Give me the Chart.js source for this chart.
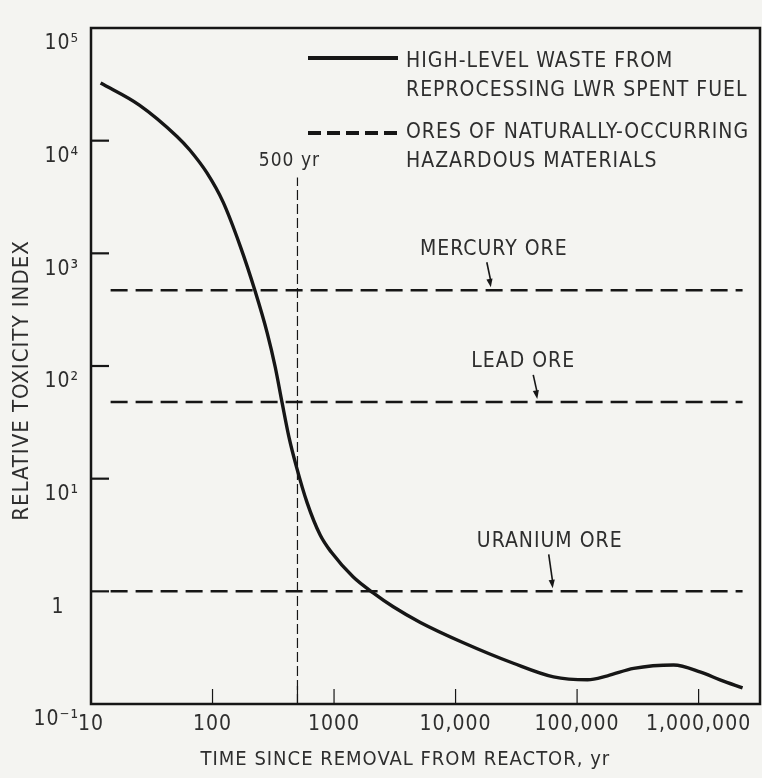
<!DOCTYPE html>
<html>
<head>
<meta charset="utf-8">
<script src="https://cdn.jsdelivr.net/npm/chart.js@4.4.1/dist/chart.umd.min.js"></script>
<style>
  html, body { margin: 0; padding: 0; background: #f4f4f1; }
  #wrap { width: 762px; height: 778px; }
</style>
</head>
<body>
<div id="wrap"><canvas id="myChart" width="762" height="778"></canvas></div>
<script>
// values (log-log)
const wasteYears = [12, 25, 51, 65, 90, 122, 169, 224, 282, 328, 374, 427, 488, 601, 769, 948, 1440, 2100, 3070, 5130, 11600, 29900, 64000, 122000, 178000, 292000, 623000, 1040000, 1520000, 2300000];
const wasteToxicity = [32500, 20700, 10900, 8260, 5170, 2860, 1160, 463, 196, 98, 47, 23, 13, 6.1, 3.16, 2.23, 1.34, 0.97, 0.73, 0.53, 0.35, 0.23, 0.174, 0.164, 0.178, 0.207, 0.222, 0.192, 0.163, 0.139];

const oreNames = ["MERCURY ORE", "LEAD ORE", "URANIUM ORE"];
const oreToxicity = [470, 48, 1];
const oreSpan = [14.5, 2300000];
const oreArrowYears = [19500, 47000, 63000];

const markerYears = [500];
const markerTop = 4700;

const xTicks = [10, 100, 1000, 10000, 100000, 1000000];
const xTickLabels = ["10", "100", "1000", "10,000", "100,000", "1,000,000"];
const yTicks = [0.1, 1, 10, 100, 1000, 10000, 100000];
const yTickLabels = ["10⁻¹", "1\u2002\u2006", "10¹", "10²", "10³", "10⁴", "10⁵"];

const ink = '#161616';
const textInk = '#2e2e2e';
const face = "'DejaVu Sans Condensed', 'DejaVu Sans', sans-serif";

const paperDecor = {
  id: 'paperDecor',
  beforeDraw(chart) {
    const ctx = chart.ctx;
    ctx.save();
    ctx.fillStyle = '#f4f4f1';
    ctx.fillRect(0, 0, chart.width, chart.height);
    ctx.restore();
    // the original lettering is spaced out a little
    ctx.letterSpacing = '1px';
  },
  afterDatasetsDraw(chart) {
    const { ctx, chartArea: a, scales: { x, y } } = chart;
    const seg = (x1, y1, x2, y2) => { ctx.beginPath(); ctx.moveTo(x1, y1); ctx.lineTo(x2, y2); ctx.stroke(); };
    ctx.save();
    ctx.strokeStyle = ink;
    ctx.fillStyle = ink;

    // frame
    ctx.lineWidth = 2.5;
    ctx.strokeRect(a.left, a.top, a.right - a.left, a.bottom - a.top);

    // inward tick marks
    ctx.lineWidth = 2.2;
    yTicks.slice(1, -1).forEach(v => {
      const py = y.getPixelForValue(v);
      seg(a.left, py, a.left + 18, py);
    });
    ctx.lineWidth = 1.2;
    xTicks.slice(1).concat(markerYears).forEach(v => {
      const px = x.getPixelForValue(v);
      seg(px, a.bottom, px, a.bottom - (v === markerYears[0] ? 18 : 15));
    });

    // legend
    ctx.lineWidth = 4;
    seg(308, 58, 398, 58);
    ctx.setLineDash([13, 6]);
    seg(308, 133, 398, 133);
    ctx.setLineDash([]);
    ctx.fillStyle = textInk;
    ctx.font = '21px ' + face;
    ctx.textAlign = 'left';
    ctx.textBaseline = 'middle';
    ctx.fillText('HIGH-LEVEL WASTE FROM', 406, 62);
    ctx.fillText('REPROCESSING LWR SPENT FUEL', 406, 91);
    ctx.fillText('ORES OF NATURALLY-OCCURRING', 406, 133);
    ctx.fillText('HAZARDOUS MATERIALS', 406, 162);

    // 500 yr label
    ctx.font = '19px ' + face;
    ctx.textAlign = 'center';
    ctx.fillText('500 yr', x.getPixelForValue(markerYears[0]) - 8, 161);

    // ore labels with arrows
    const labelShift = [3, -14, -3];
    const tailRise = [25, 24, 34];
    oreNames.forEach((name, i) => {
      const tx = x.getPixelForValue(oreArrowYears[i]);
      const ty = y.getPixelForValue(oreToxicity[i]) - 3;
      const sx = tx - 4, sy = ty - tailRise[i];
      ctx.strokeStyle = ink;
      ctx.fillStyle = ink;
      ctx.lineWidth = 1.6;
      seg(sx, sy, tx, ty - 6);
      const ang = Math.atan2(ty - sy, tx - sx);
      ctx.beginPath();
      ctx.moveTo(tx, ty);
      ctx.lineTo(tx - 9 * Math.cos(ang - 0.35), ty - 9 * Math.sin(ang - 0.35));
      ctx.lineTo(tx - 9 * Math.cos(ang + 0.35), ty - 9 * Math.sin(ang + 0.35));
      ctx.closePath();
      ctx.fill();
      ctx.fillStyle = textInk;
      ctx.font = '21px ' + face;
      ctx.textAlign = 'center';
      ctx.fillText(name, tx + labelShift[i], sy - 13);
    });
    ctx.restore();
  }
};

const tickFont = { family: face, size: 21 };

new Chart('myChart', {
  type: 'line',
  data: {
    datasets: [
      {
        label: 'HIGH-LEVEL WASTE FROM REPROCESSING LWR SPENT FUEL',
        data: wasteYears.map((t, i) => ({ x: t, y: wasteToxicity[i] })),
        borderColor: ink,
        borderWidth: 3.4,
        pointRadius: 0,
        cubicInterpolationMode: 'monotone',
        fill: false
      },
      ...oreToxicity.map((v, i) => ({
        label: oreNames[i],
        data: oreSpan.map(t => ({ x: t, y: v })),
        borderColor: ink,
        borderWidth: 2.5,
        borderDash: [17, 8],
        pointRadius: 0,
        tension: 0,
        fill: false
      })),
      {
        label: '500 yr',
        data: [{ x: markerYears[0], y: yTicks[0] }, { x: markerYears[0], y: markerTop }],
        borderColor: ink,
        borderWidth: 1.2,
        borderDash: [10, 4],
        pointRadius: 0,
        tension: 0,
        fill: false
      }
    ]
  },
  options: {
    responsive: false,
    animation: false,
    layout: { padding: { top: 28, right: 2, left: 0, bottom: 0 } },
    plugins: {
      legend: { display: false },
      tooltip: { enabled: false }
    },
    scales: {
      x: {
        type: 'logarithmic',
        position: 'bottom',
        min: 10,
        max: 3200000,
        grid: { display: false, drawTicks: false },
        border: { display: false },
        afterBuildTicks: s => { s.ticks = xTicks.map(v => ({ value: v })); },
        afterFit: s => { s.height = 74; },
        ticks: {
          autoSkip: false,
          maxRotation: 0,
          padding: 8,
          color: textInk,
          font: tickFont,
          callback: (v, i) => xTickLabels[i]
        },
        title: {
          display: true,
          text: 'TIME SINCE REMOVAL FROM REACTOR, yr      ',
          color: textInk,
          font: { family: face, size: 20 },
          padding: { top: 0, bottom: 6 }
        }
      },
      y: {
        type: 'logarithmic',
        min: 0.1,
        max: 100000,
        grid: { display: false, drawTicks: false },
        border: { display: false },
        afterBuildTicks: s => { s.ticks = yTicks.map(v => ({ value: v })); },
        afterFit: s => { s.width = 91; },
        ticks: {
          autoSkip: false,
          padding: 12,
          labelOffset: 16,
          color: textInk,
          font: tickFont,
          callback: (v, i) => yTickLabels[i]
        },
        title: {
          display: true,
          text: 'RELATIVE TOXICITY INDEX    ',
          color: textInk,
          font: { family: face, size: 22 },
          padding: { top: 9, bottom: 0 }
        }
      }
    }
  },
  plugins: [paperDecor]
});
</script>
</body>
</html>
